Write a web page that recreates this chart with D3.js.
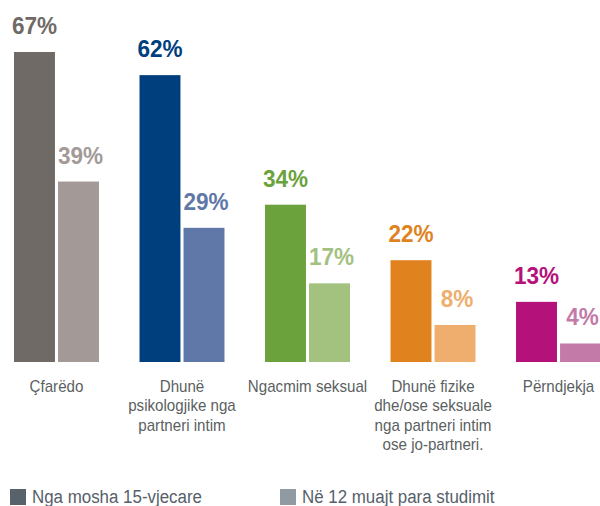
<!DOCTYPE html>
<html lang="sq">
<head>
<meta charset="UTF-8">
<title>Dhuna</title>
<script src="https://cdn.jsdelivr.net/npm/d3@7"></script>
<style>
    body { margin: 0; background: #fff; }
    text { font-family: "Liberation Sans", Arial, sans-serif; }
</style>
</head>
<body>
<div id="chart"></div>
<script>
    // të dhënat
    const categories = ["Çfarëdo", "Dhunë psikologjike nga partneri intim", "Ngacmim seksual",
        "Dhunë fizike dhe/ose seksuale nga partneri intim ose jo-partneri.", "Përndjekja"];
    const labelLines = [
        ["Çfarëdo"],
        ["Dhunë", "psikologjike nga", "partneri intim"],
        ["Ngacmim seksual"],
        ["Dhunë fizike", "dhe/ose seksuale", "nga partneri intim", "ose jo-partneri."],
        ["Përndjekja"]
    ];
    const seriesNames = ["Nga mosha 15-vjecare", "Në 12 muajt para studimit"];
    const since15 = [67, 62, 34, 22, 13];
    const last12 = [39, 29, 17, 8, 4];
    const darkColors = ["#706a66", "#003f7d", "#6ba23c", "#e0821e", "#b5117a"];
    const lightColors = ["#a39a98", "#5f78a8", "#a3c17f", "#efae6d", "#c47aa9"];
    const legendColors = ["#57626b", "#8f9aa3"];

    const width = 600, height = 506;
    const narrow = 0.89; // fonti i ngushtë
    const svg = d3.select("#chart").append("svg")
        .attr("width", width).attr("height", height);

    const x = d3.scaleBand().domain(categories).range([14, 601]).paddingInner(0.323).paddingOuter(0);
    const xs = d3.scaleBand().domain([0, 1]).range([0, x.bandwidth()]).paddingInner(0.07);
    const y = d3.scaleLinear().domain([0, 67]).range([362, 52]);

    const rows = categories.map((c, i) => ({ cat: c, i, vals: [since15[i], last12[i]] }));

    const g = svg.append("g").selectAll("g").data(rows).join("g")
        .attr("transform", d => `translate(${x(d.cat)},0)`);

    const bars = g.selectAll("g.bar")
        .data(d => d.vals.map((v, s) => ({ v, s, i: d.i })))
        .join("g").attr("class", "bar");

    bars.append("rect")
        .attr("x", d => xs(d.s))
        .attr("width", xs.bandwidth())
        .attr("y", d => y(d.v))
        .attr("height", d => y(0) - y(d.v))
        .attr("fill", d => d.s === 0 ? darkColors[d.i] : lightColors[d.i]);

    bars.append("text")
        .attr("transform", d => `translate(${xs(d.s) + xs.bandwidth() / 2 + (d.s === 1 ? 2 : 0)},${y(d.v) - 18}) scale(0.94,1)`)
        .attr("text-anchor", "middle")
        .attr("font-size", 24)
        .attr("font-weight", "bold")
        .attr("fill", d => d.s === 0 ? darkColors[d.i] : lightColors[d.i])
        .text(d => d.v + "%");

    // emrat e kategorive
    g.append("text")
        .attr("transform", `translate(${x.bandwidth() / 2},0) scale(${narrow},1)`)
        .attr("text-anchor", "middle")
        .attr("font-size", 17)
        .attr("fill", "#5b5f62")
        .selectAll("tspan")
        .data(d => labelLines[d.i])
        .join("tspan")
        .attr("x", 0)
        .attr("y", (d, k) => 392 + k * 19.3)
        .text(d => d);

    // legjenda
    const legend = svg.append("g").selectAll("g").data(seriesNames).join("g")
        .attr("transform", (d, i) => `translate(${10 + i * 270},489)`);
    legend.append("rect")
        .attr("width", 16).attr("height", 16)
        .attr("fill", (d, i) => legendColors[i]);
    legend.append("text")
        .attr("transform", `translate(22,13.5) scale(${narrow},1)`)
        .attr("font-size", 19)
        .attr("fill", "#56606a")
        .text(d => d);
</script>
</body>
</html>
